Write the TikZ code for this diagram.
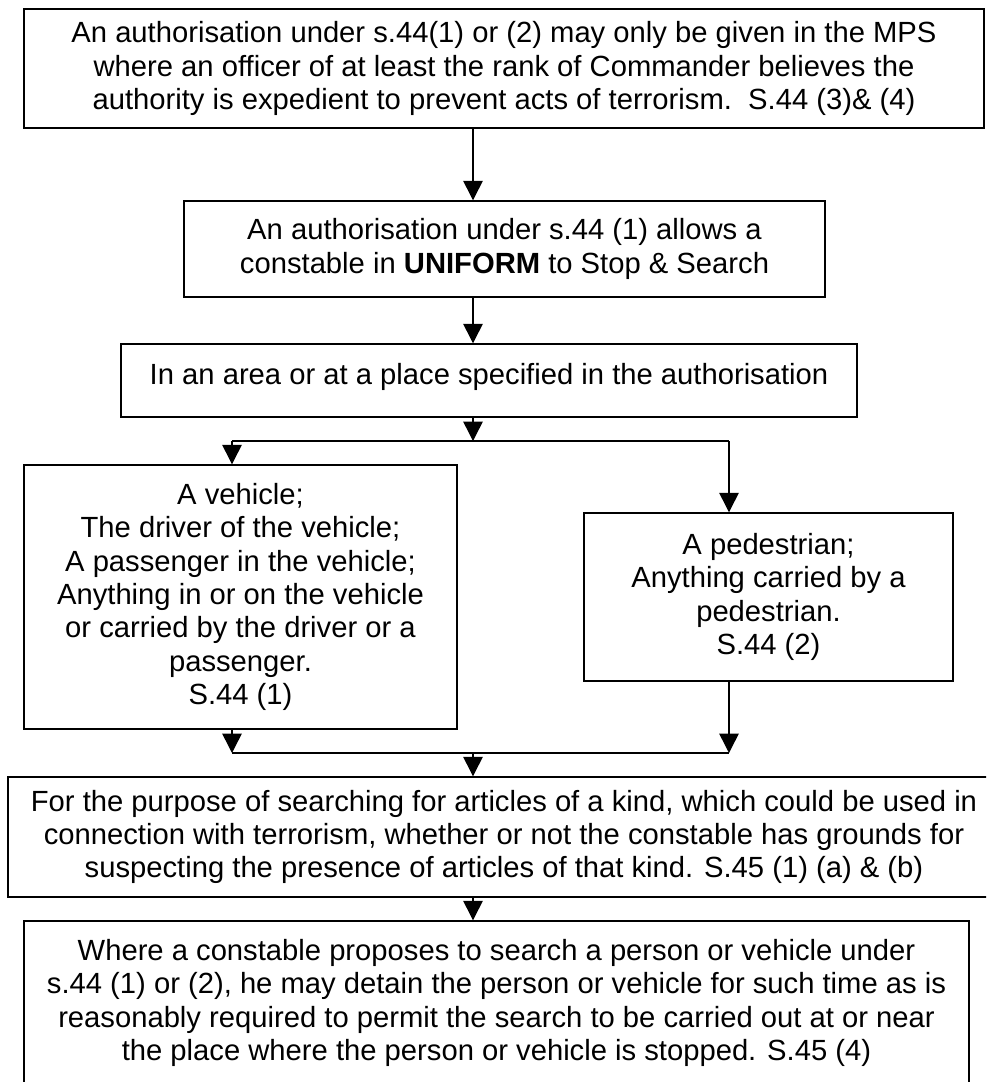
\documentclass[tikz,border=0pt]{standalone}
\usepackage{fontspec}
\setmainfont{Liberation Sans}
\usetikzlibrary{arrows.meta}
\tikzset{
  box/.style={draw, line width=1.1pt, inner sep=0pt, align=center,
    font=\fontsize{21.9}{25}\selectfont},
  link/.style={line width=1.1pt},
  flow/.style={link, -{Triangle[length=14.5pt,width=14.5pt]}}
}
\begin{document}
\begin{tikzpicture}[x=0.75pt, y=-0.75pt]
  \useasboundingbox (0,0) rectangle (986,1082);
  \clip (0,0) rectangle (986,1082);
  % boxes
  \node[box, minimum width=720pt, minimum height=89.25pt] (auth) at (504,68.5)
    {An authorisation under s.44(1) or (2) may only be given in the MPS\\
     where an officer of at least the rank of Commander believes the\\
     authority is expedient to prevent acts of terrorism.\ \ S.44 (3)\& (4)};
  \node[box, minimum width=480.75pt, minimum height=72pt] (uniform) at (504.5,249)
    {An authorisation under s.44 (1) allows a\\
     constable in \textbf{UNIFORM} to Stop \& Search};
  \node[box, minimum width=552pt, minimum height=54.75pt, text depth=10pt] (area) at (489,380.5)
    {In an area or at a place specified in the authorisation};
  \node[box, minimum width=324.75pt, minimum height=198pt] (vehicle) at (240.5,597)
    {A vehicle;\\ The driver of the vehicle;\\ A passenger in the vehicle;\\
     Anything in or on the vehicle\\ or carried by the driver or a\\
     passenger.\\ S.44 (1)};
  \node[box, minimum width=276.75pt, minimum height=126pt] (ped) at (768.5,597)
    {A pedestrian;\\ Anything carried by a\\ pedestrian.\\ S.44 (2)};
  \node[box, minimum width=744pt, minimum height=90pt] (purpose) at (504,837)
    {For the purpose of searching for articles of a kind, which could be used in\\
     connection with terrorism, whether or not the constable has grounds for\\
     suspecting the presence of articles of that kind. S.45 (1) (a) \& (b)};
  \node[box, minimum width=708.75pt, minimum height=123pt] (detain) at (496.5,1003)
    {Where a constable proposes to search a person or vehicle under\\
     s.44 (1) or (2), he may detain the person or vehicle for such time as is\\
     reasonably required to permit the search to be carried out at or near\\
     the place where the person or vehicle is stopped. S.45 (4)};
  % branch points
  \coordinate (split) at (473,441);
  \coordinate (lsplit) at (232,441);
  \coordinate (rsplit) at (729,441);
  \coordinate (join) at (473,753);
  \coordinate (ljoin) at (232,753);
  \coordinate (rjoin) at (729,753);
  % arrows
  \draw[flow] (auth.south -| split) -- (uniform.north -| split);
  \draw[flow] (uniform.south -| split) -- (area.north -| split);
  \draw[flow] (area.south -| split) -- (split);
  \draw[link] (lsplit) -- (rsplit);
  \draw[flow] (lsplit) -- (vehicle.north -| lsplit);
  \draw[flow] (rsplit) -- (ped.north -| rsplit);
  \draw[flow] (vehicle.south -| ljoin) -- (ljoin);
  \draw[flow] (ped.south -| rjoin) -- (rjoin);
  \draw[link] (ljoin) -- (rjoin);
  \draw[flow] (join) -- (purpose.north -| join);
  \draw[flow] (purpose.south -| join) -- (detain.north -| join);
\end{tikzpicture}
\end{document}
